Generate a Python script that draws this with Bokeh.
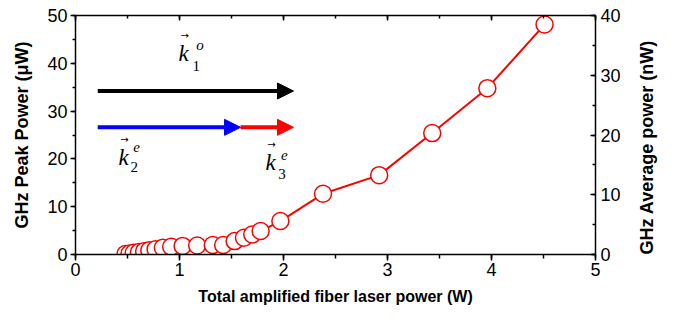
import math
from bokeh.plotting import figure
from bokeh.models import (Range1d, LinearAxis, SingleIntervalTicker, Arrow, NormalHead,
                          ColumnDataSource)
from bokeh.core.properties import value
from bokeh.embed import file_html
from bokeh.resources import INLINE

# --- data ---
laser_power_W = [0.48, 0.52, 0.56, 0.61, 0.66, 0.71, 0.77, 0.84, 0.92, 1.03, 1.17,
                 1.32, 1.42, 1.53, 1.62, 1.70, 1.78, 1.97, 2.38, 2.92, 3.43, 3.96, 4.51]
peak_power_uW = [0.1, 0.2, 0.35, 0.5, 0.7, 0.9, 1.1, 1.4, 1.6, 1.8, 1.9,
                 2.0, 2.0, 2.8, 3.5, 4.2, 4.9, 7.0, 12.7, 16.6, 25.4, 34.8, 48.1]

x_ticks_interval = 1
x_range = (0, 5)
y_left_range = (0, 50)
y_right_range = (0, 40)

x_title = "Total amplified fiber laser power (W)"
y_left_title = "GHz Peak Power (μW)"
y_right_title = "GHz Average power (nW)"

# wave-vector arrows (annotation positions in data units)
arrow_x_start = 0.214
arrow_split = 1.587
arrow_x_end = 2.096
arrow_y_top = 34.2
arrow_y_bottom = 26.6

labels = [
    # (k x, k y, sub text, sub x, sub y, sup text, sup x, sup y, arrow x, arrow y)
    (0.99, 42.0, "1", 1.125, 39.5, "o", 1.16, 43.9, 1.05, 45.8),
    (0.413, 20.3, "2", 0.53, 18.3, "e", 0.555, 22.4, 0.47, 24.1),
    (1.827, 19.3, "3", 1.95, 16.9, "e", 1.975, 20.9, 1.885, 23.0),
]

RED = "#ff0000"
FONT = "Liberation Sans"
SERIF = "Liberation Serif"

p = figure(width=670, height=316, output_backend="svg", toolbar_location=None,
           x_range=Range1d(*x_range), y_range=Range1d(*y_left_range),
           min_border_left=75, min_border_right=75, min_border_top=15, min_border_bottom=62)
p.extra_y_ranges = {"avg": Range1d(*y_right_range)}
p.grid.visible = False
p.outline_line_color = None
p.background_fill_color = "white"

def style_axis(ax, tin, tout, min_in, min_out):
    ax.axis_line_color = "black"
    ax.axis_line_width = 1.5
    ax.major_tick_line_color = "black"
    ax.minor_tick_line_color = "black"
    ax.major_tick_line_width = 1.5
    ax.minor_tick_line_width = 1.5
    ax.major_tick_in = tin
    ax.major_tick_out = tout
    ax.minor_tick_in = min_in
    ax.minor_tick_out = min_out
    ax.major_label_text_font = FONT
    ax.major_label_text_font_size = "18px"
    ax.major_label_text_color = "black"
    ax.axis_label_text_font = FONT
    ax.axis_label_text_font_size = "16px"
    ax.axis_label_text_font_style = "bold"
    ax.axis_label_text_color = "black"

xa = p.xaxis[0]
xa.ticker = SingleIntervalTicker(interval=x_ticks_interval, num_minor_ticks=2)
xa.axis_label = x_title
style_axis(xa, 0, 6, 0, 4)
xa.major_label_standoff = 2
xa.axis_label_standoff = 9

ya = p.yaxis[0]
ya.ticker = SingleIntervalTicker(interval=10, num_minor_ticks=2)
ya.axis_label = y_left_title
style_axis(ya, 0, 5, 0, 3)
ya.axis_label_text_font_size = "18px"
ya.major_label_standoff = 3
ya.axis_label_standoff = 12

yr = LinearAxis(y_range_name="avg", axis_label=y_right_title,
                ticker=SingleIntervalTicker(interval=10, num_minor_ticks=2))
style_axis(yr, 5, 0, 3, 0)
yr.axis_label_text_font_size = "18px"
yr.major_label_standoff = 5
yr.axis_label_standoff = 23
try:
    yr.axis_label_orientation = math.pi / 2
except Exception:
    pass
try:
    yr.axis_label_align = "start"
except Exception:
    pass
p.add_layout(yr, "right")

top = LinearAxis(ticker=SingleIntervalTicker(interval=x_ticks_interval, num_minor_ticks=2))
style_axis(top, 5, 0, 3, 0)
top.major_label_text_color = None
top.major_label_standoff = 0
p.add_layout(top, "above")

src = ColumnDataSource(dict(x=laser_power_W, y=peak_power_uW))
p.line("x", "y", source=src, line_color=RED, line_width=2)
p.scatter("x", "y", source=src, size=17, marker="circle", fill_color="white",
          line_color=RED, line_width=1.5)

# arrows
p.add_layout(Arrow(end=NormalHead(size=16, fill_color="black", line_color="black"),
                   x_start=arrow_x_start, y_start=arrow_y_top, x_end=arrow_x_end, y_end=arrow_y_top,
                   line_color="black", line_width=4))
p.add_layout(Arrow(end=NormalHead(size=16, fill_color="#0000ff", line_color="#0000ff"),
                   x_start=arrow_x_start, y_start=arrow_y_bottom, x_end=arrow_split, y_end=arrow_y_bottom,
                   line_color="#0000ff", line_width=4))
p.add_layout(Arrow(end=NormalHead(size=16, fill_color=RED, line_color=RED),
                   x_start=arrow_split, y_start=arrow_y_bottom, x_end=arrow_x_end, y_end=arrow_y_bottom,
                   line_color=RED, line_width=4))

kx = [l[0] for l in labels]; ky = [l[1] for l in labels]
p.text(kx, ky, text=["k"] * 3, text_font=value(SERIF), text_font_style="italic",
       text_font_size="23px", text_align="left", text_baseline="alphabetic", text_color="black")
p.text([l[3] for l in labels], [l[4] for l in labels], text=[l[2] for l in labels],
       text_font=value(SERIF), text_font_size="15px", text_align="left",
       text_baseline="alphabetic", text_color="black")
p.text([l[6] for l in labels], [l[7] for l in labels], text=[l[5] for l in labels],
       text_font=value(SERIF), text_font_style="italic", text_font_size="15px", text_align="left",
       text_baseline="alphabetic", text_color="black")
p.text([l[8] for l in labels], [l[9] for l in labels], text=["→"] * 3,
       text_font=value("DejaVu Sans"), text_font_size="10px", text_align="center",
       text_baseline="middle", text_color="black")

open("out.html", "w").write(file_html(p, INLINE))
